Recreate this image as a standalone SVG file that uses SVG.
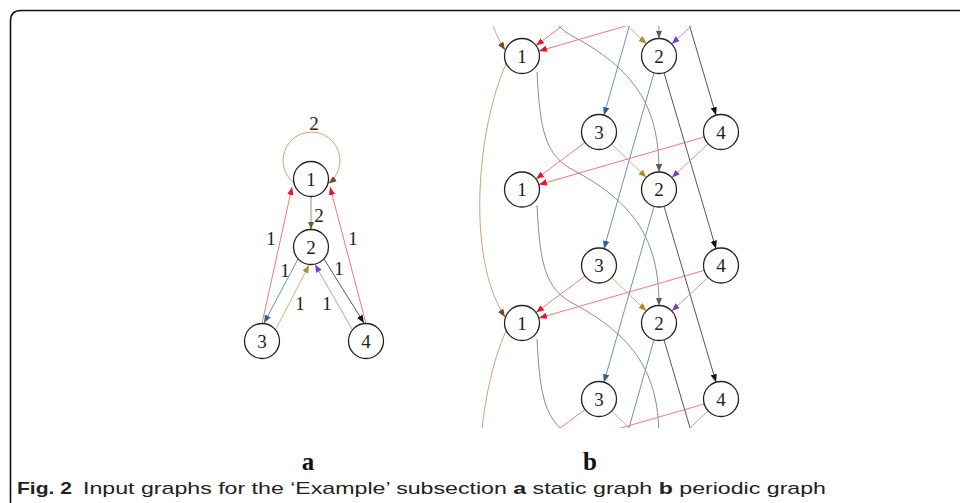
<svg xmlns="http://www.w3.org/2000/svg" width="960" height="503" viewBox="0 0 960 503">
<style>
.node circle{fill:#fff;stroke:#222;stroke-width:1.3}
.node text,.lbl{font-family:"Liberation Serif","Times New Roman",serif;font-size:19px;fill:#222;text-anchor:middle}
.e{fill:none;stroke-width:1}
.red{stroke:#ef7a7a;marker-end:url(#mR)}
.blue{stroke:#7090b8;marker-end:url(#mB)}
.blk{stroke:#555;marker-end:url(#mK)}
.org{stroke:#e0aa80;marker-end:url(#mO)}
.pur{stroke:#b49ad8;marker-end:url(#mP)}
.gry{stroke:#8c8c8c;marker-end:url(#mG)}
.brn{stroke:#d4a07a;marker-end:url(#mN)}
.sub{font-family:"Liberation Serif","Times New Roman",serif;font-size:25px;font-weight:bold;fill:#111;text-anchor:middle}
.cap{font-family:"Liberation Sans",Arial,sans-serif;font-size:17px;fill:#222}
</style>
<defs>
<marker id="mR" viewBox="0 0 10 8" refX="10" refY="4" markerWidth="8" markerHeight="6.5" markerUnits="userSpaceOnUse" orient="auto"><path d="M0,0L10,4L0,8z" fill="#e8142a"/></marker>
<marker id="mB" viewBox="0 0 10 8" refX="10" refY="4" markerWidth="8" markerHeight="6.5" markerUnits="userSpaceOnUse" orient="auto"><path d="M0,0L10,4L0,8z" fill="#2e5f90"/></marker>
<marker id="mK" viewBox="0 0 10 8" refX="10" refY="4" markerWidth="8" markerHeight="6.5" markerUnits="userSpaceOnUse" orient="auto"><path d="M0,0L10,4L0,8z" fill="#111"/></marker>
<marker id="mO" viewBox="0 0 10 8" refX="10" refY="4" markerWidth="8" markerHeight="6.5" markerUnits="userSpaceOnUse" orient="auto"><path d="M0,0L10,4L0,8z" fill="#a89028"/></marker>
<marker id="mP" viewBox="0 0 10 8" refX="10" refY="4" markerWidth="8" markerHeight="6.5" markerUnits="userSpaceOnUse" orient="auto"><path d="M0,0L10,4L0,8z" fill="#7a40c0"/></marker>
<marker id="mG" viewBox="0 0 10 8" refX="10" refY="4" markerWidth="8" markerHeight="6.5" markerUnits="userSpaceOnUse" orient="auto"><path d="M0,0L10,4L0,8z" fill="#4c6450"/></marker>
<marker id="mN" viewBox="0 0 10 8" refX="10" refY="4" markerWidth="8" markerHeight="6.5" markerUnits="userSpaceOnUse" orient="auto"><path d="M0,0L10,4L0,8z" fill="#7a4a22"/></marker>
<marker id="mL" viewBox="0 0 10 8" refX="10" refY="4" markerWidth="8" markerHeight="6.5" markerUnits="userSpaceOnUse" orient="auto"><path d="M0,0L10,4L0,8z" fill="#5a6a30"/></marker>
<clipPath id="clipB"><rect x="474" y="26" width="300" height="402"/></clipPath>
</defs>
<rect width="960" height="503" fill="#fff"/>
<path d="M10.5,503 V21 Q10.5,10.5 21,10.5 H960" fill="none" stroke="#111" stroke-width="1.6"/>

<!-- part a connectors -->
<g id="edges-a">
<path class="e brn" d="M294.5,183.4 A28.5,28.5 0 1 1 328.5,183.4"/>
<path class="e" stroke="#8a9a70" marker-end="url(#mL)" d="M311,196.5 L311,229.5"/>
<path class="e red" d="M262,323.5 L292,187"/>
<path class="e red" d="M366,323.5 L330,187"/>
<path class="e blue" d="M298,259 L264,323"/>
<path class="e org" d="M276,329 L309,265"/>
<path class="e pur" d="M352,329 L315,264.5"/>
<path class="e blk" d="M324,259 L364,323"/>
</g>
<g id="labels-a">
<text class="lbl" x="314" y="129.5">2</text>
<text class="lbl" x="319" y="221.5">2</text>
<text class="lbl" x="271" y="244.5">1</text>
<text class="lbl" x="353" y="244.5">1</text>
<text class="lbl" x="285" y="276.5">1</text>
<text class="lbl" x="339" y="274.5">1</text>
<text class="lbl" x="300" y="309.5">1</text>
<text class="lbl" x="327" y="309.5">1</text>
</g>
<g id="a-n1" class="node"><circle cx="311" cy="179" r="17.5"/><text x="311" y="185.5">1</text></g>
<g id="a-n2" class="node"><circle cx="311" cy="247" r="17.5"/><text x="311" y="253.5">2</text></g>
<g id="a-n3" class="node"><circle cx="262" cy="341" r="17.5"/><text x="262" y="347.5">3</text></g>
<g id="a-n4" class="node"><circle cx="366" cy="341" r="17.5"/><text x="366" y="347.5">4</text></g>

<!-- part b -->
<g clip-path="url(#clipB)">
<g id="edges-b">
<path class="e brn" d="M506,-203 C478,-141 465,-11 505,50"/>
<path class="e brn" d="M506,64 C478,126 465,256 505,317"/>
<path class="e brn" d="M506,331 C478,393 465,523 505,584"/>
<path class="e gry" d="M537,-195 C540,-136 545,-111 575,-96 C640,-61 659,-21 659,38.5"/>
<path class="e gry" d="M537,-61.5 C540,-2.5 545,22.5 575,37.5 C640,72.5 659,112.5 659,172"/>
<path class="e gry" d="M537,72 C540,131 545,156 575,171 C640,206 659,246 659,305.5"/>
<path class="e gry" d="M537,205.5 C540,264.5 545,289.5 575,304.5 C640,339.5 659,379.5 659,439"/>
<path class="e gry" d="M537,339 C540,398 545,423 575,438 C640,473 659,513 659,572.5"/>
<path class="e red" d="M585,9 L536,45.5"/>
<path class="e red" d="M585,142.5 L536,179"/>
<path class="e red" d="M585,276 L536,312.5"/>
<path class="e red" d="M585,409.5 L536,446"/>
<path class="e red" d="M704,3.4 L539,51"/>
<path class="e red" d="M704,137 L539,184.6"/>
<path class="e red" d="M704,270.4 L539,318"/>
<path class="e red" d="M704,404 L539,451.6"/>
<path class="e blue" d="M654,-60.7 L604,115.2"/>
<path class="e blue" d="M654,72.8 L604,248.7"/>
<path class="e blue" d="M654,206.3 L604,382.2"/>
<path class="e blue" d="M654,339.8 L604,515.7"/>
<path class="e blk" d="M664,-60.7 L716,115.2"/>
<path class="e blk" d="M664,72.8 L716,248.7"/>
<path class="e blk" d="M664,206.3 L716,382.2"/>
<path class="e blk" d="M664,339.8 L716,515.7"/>
<path class="e org" d="M611.6,10.6 L646.4,43.9"/>
<path class="e org" d="M611.6,144.1 L646.4,177.4"/>
<path class="e org" d="M611.6,277.6 L646.4,310.9"/>
<path class="e org" d="M611.6,411.1 L646.4,444.4"/>
<path class="e pur" d="M708.2,10.4 L671.8,44.1"/>
<path class="e pur" d="M708.2,143.9 L671.8,177.6"/>
<path class="e pur" d="M708.2,277.4 L671.8,311.1"/>
<path class="e pur" d="M708.2,410.9 L671.8,444.6"/>
</g>
<g id="b-n1-1" class="node"><circle cx="522" cy="56" r="17.5"/><text x="522" y="62.5">1</text></g>
<g id="b-n2-1" class="node"><circle cx="659" cy="56" r="17.5"/><text x="659" y="62.5">2</text></g>
<g id="b-n3-1" class="node"><circle cx="599" cy="132" r="17.5"/><text x="599" y="138.5">3</text></g>
<g id="b-n4-1" class="node"><circle cx="721" cy="132" r="17.5"/><text x="721" y="138.5">4</text></g>
<g id="b-n1-2" class="node"><circle cx="522" cy="189.5" r="17.5"/><text x="522" y="196">1</text></g>
<g id="b-n2-2" class="node"><circle cx="659" cy="189.5" r="17.5"/><text x="659" y="196">2</text></g>
<g id="b-n3-2" class="node"><circle cx="599" cy="265.5" r="17.5"/><text x="599" y="272">3</text></g>
<g id="b-n4-2" class="node"><circle cx="721" cy="265.5" r="17.5"/><text x="721" y="272">4</text></g>
<g id="b-n1-3" class="node"><circle cx="522" cy="323" r="17.5"/><text x="522" y="329.5">1</text></g>
<g id="b-n2-3" class="node"><circle cx="659" cy="323" r="17.5"/><text x="659" y="329.5">2</text></g>
<g id="b-n3-3" class="node"><circle cx="599" cy="399" r="17.5"/><text x="599" y="405.5">3</text></g>
<g id="b-n4-3" class="node"><circle cx="721" cy="399" r="17.5"/><text x="721" y="405.5">4</text></g>
</g>

<text class="sub" x="308" y="470">a</text>
<text class="sub" x="590" y="470">b</text>
<text class="cap" x="17" y="494" font-weight="bold" font-size="18" textLength="55" lengthAdjust="spacingAndGlyphs">Fig. 2</text>
<text class="cap" x="83" y="494" textLength="743" lengthAdjust="spacingAndGlyphs">Input graphs for the ‘Example’ subsection <tspan font-weight="bold">a</tspan> static graph <tspan font-weight="bold">b</tspan> periodic graph</text>
</svg>
